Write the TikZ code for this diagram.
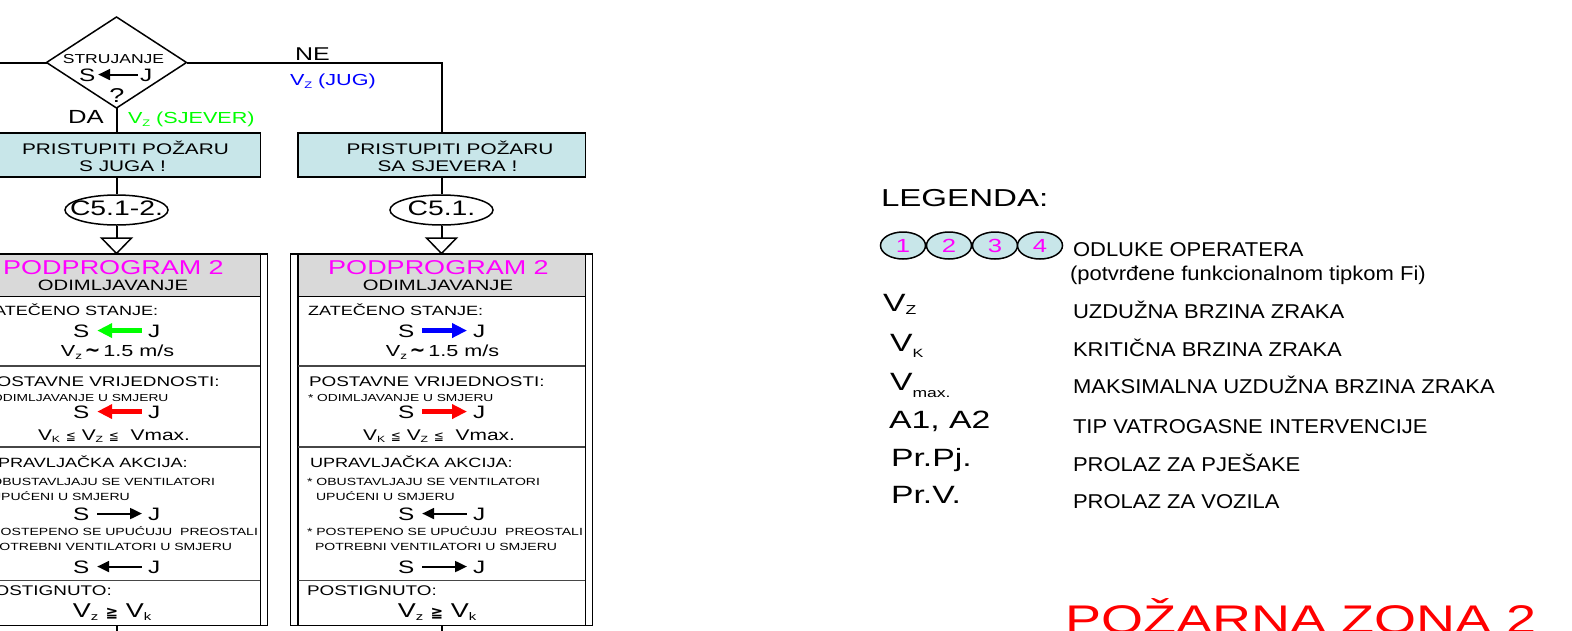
\documentclass[tikz,border=0pt]{standalone}
\usepackage{fontspec}
\setmainfont[FakeStretch=1.35]{Liberation Sans}
\newfontfamily\legf[FakeStretch=1.1]{Liberation Sans}
\newfontfamily\symf{DejaVu Sans}
\usetikzlibrary{arrows.meta,shapes.geometric}
\newcommand\fsz[1]{\fontsize{#1}{#1}\selectfont}
\newcommand\subtxt[3]{\raisebox{-#2pt}{\fsz{#1}#3}}
\definecolor{tealfill}{RGB}{200,230,233}
\definecolor{hdrgrey}{RGB}{217,217,217}
\definecolor{mag}{RGB}{255,0,255}
\definecolor{grn}{RGB}{0,255,0}
\definecolor{blu}{RGB}{0,0,255}
\definecolor{rd}{RGB}{255,0,0}
\definecolor{divgrey}{RGB}{70,70,70}
\tikzset{
 lft/.style={inner sep=0pt, outer sep=0pt, anchor=base west},
 ctr/.style={inner sep=0pt, outer sep=0pt, anchor=base},
 legtxt/.style={inner sep=0pt, outer sep=0pt, anchor=base west, font=\legf\fsz{20}},
 sj/.style={inner sep=0pt, outer sep=0pt, anchor=base west, font=\fsz{18}, text height=12.9pt, text depth=0pt},
 conn/.style={line width=2pt, draw=black},
 shapeline/.style={line width=1.5pt, draw=black},
 tealbox/.style={rectangle, draw, line width=1.5pt, fill=tealfill, minimum width=287.5pt, minimum height=44pt, inner sep=0pt},
 ell/.style={ellipse, draw, line width=1.5pt, fill=white, minimum width=103pt, minimum height=30pt, inner sep=0pt},
 bigbox/.style={rectangle, draw, line width=1.5pt, minimum width=302pt, minimum height=371.5pt, inner sep=0pt},
 frame/.style={line width=1.5pt, draw=black},
 divider/.style={line width=1.2pt, draw=divgrey},
 legc/.style={ellipse, draw, line width=1.5pt, fill=tealfill, minimum width=45pt, minimum height=27pt, inner sep=0pt, font=\fsz{19}, text=mag},
 thickR/.style={line width=5pt, -{Triangle[length=15pt,width=14pt]}},
 thickL/.style={line width=5pt, {Triangle[length=15pt,width=14pt]}-},
 thinR/.style={line width=2pt, -{Triangle[length=12pt,width=11pt]}},
 thinL/.style={line width=2pt, {Triangle[length=12pt,width=11pt]}-},
}
\newcommand\sjrow[5]{%
 \node[sj] (#1S) at (#2,#4) {S};
 \node[sj] (#1J) at (#3,#4) {J};
 \draw[#5] ([xshift=8pt]#1S.east) -- ([xshift=-6pt]#1J.west);}
\newcommand\progbox[1]{%
 \fill[hdrgrey] (297.75,254) rectangle (585.25,296.7);
 \node[bigbox] (#1box) at (441.5,439.75) {};
 \draw[frame] (297.75,254) -- (297.75,625.5);
 \draw[frame] (585.25,254) -- (585.25,625.5);
 \draw[frame] (297.75,296.7) -- (585.25,296.7);
 \draw[divider] (297.75,366) -- (585.25,366);
 \draw[divider] (297.75,447) -- (585.25,447);
 \draw[divider] (297.75,580.7) -- (585.25,580.7);
 \node[ctr, font=\fsz{20}, text=mag] (#1t1) at (438.5,274) {PODPROGRAM 2};
 \node[ctr, font=\fsz{15}] (#1t2) at (438,290) {ODIMLJAVANJE};
 \node[lft, font=\fsz{13.4}] (#1t3) at (308,315) {ZATEČENO STANJE:};
 \node[ctr, font=\fsz{16}] (#1t4) at (442.5,356) {V\subtxt{10}{3}{z}\,{\symf\bfseries\fsz{19}∼}\,1.5 m/s};
 \node[lft, font=\fsz{14}] (#1t5) at (309,386) {POSTAVNE VRIJEDNOSTI:};
 \node[lft, font=\fsz{10.2}] (#1t6) at (308,401) {* ODIMLJAVANJE U SMJERU};
 \node[ctr, font=\fsz{15.5}] (#1t7) at (439,440) {V\subtxt{9}{2.5}{K}\ {\symf\fsz{12}≦}\ V\subtxt{9}{2.5}{Z}\ {\symf\fsz{12}≦}\ \ Vmax.};
 \node[lft, font=\fsz{13.4}] (#1t8) at (310,467) {UPRAVLJAČKA AKCIJA:};
 \node[lft, font=\fsz{10.4}] (#1t9) at (307,485) {* OBUSTAVLJAJU SE VENTILATORI};
 \node[lft, font=\fsz{10.4}] (#1t10) at (316,500) {UPUĆENI U SMJERU};
 \node[lft, font=\fsz{10.4}] (#1t11) at (307,535) {* POSTEPENO SE UPUĆUJU~ PREOSTALI};
 \node[lft, font=\fsz{10.4}] (#1t12) at (315,550) {POTREBNI VENTILATORI U SMJERU};
 \node[lft, font=\fsz{14}] (#1t13) at (307,595) {POSTIGNUTO:};
 \node[ctr, font=\fsz{20}] (#1t14) at (437,617) {V\subtxt{11}{3}{z}\ {\symf\bfseries\fsz{15}≧}\ V\subtxt{11}{3}{k}};
 \coordinate (#1out) at (441.5,640);
 \draw[conn] (#1box.south) -- (#1out);
}
\begin{document}
\begin{tikzpicture}[x=1pt,y=-1pt]
\useasboundingbox (0,0) rectangle (1572,630);
\fill[white] (0,0) rectangle (1572,630);
\clip (0,0) rectangle (1572,630);

% decision diamond
\coordinate (dT) at (116.5,17);
\coordinate (dR) at (186.5,62.5);
\coordinate (dB) at (116.5,108);
\coordinate (dL) at (46.5,62.5);
\coordinate (lin) at (-5,62.5);
\draw[conn] (lin) -- (dL);
\draw[shapeline, fill=white] (dT) -- (dR) -- (dB) -- (dL) -- cycle;
\node[ctr, font=\fsz{13}] (strj) at (113.5,63) {STRUJANJE};
\node[sj] (dS) at (79,81) {S};
\node[sj] (dJ) at (140,81) {J};
\draw[thinL] ([xshift=3pt]dS.east) -- ([xshift=-2pt]dJ.west);
\node[ctr, font=\fsz{20}] (qm) at (117,102) {?};

% labels
\node[lft, font=\fsz{18.5}] (ne) at (295,60.5) {NE};
\node[lft, font=\fsz{16}, text=blu] (jug) at (290,85) {V\subtxt{9.5}{3}{Z} (JUG)};
\node[lft, font=\fsz{19}] (da) at (68,123.3) {DA};
\node[lft, font=\fsz{16}, text=grn] (sjev) at (128,123) {V\subtxt{9.5}{3}{Z} (SJEVER)};

% teal boxes
\node[tealbox] (b1) at (116.5,155) {};
\node[tealbox] (b2) at (441.5,155) {};
\node[ctr, font=\fsz{15.4}] (b1a) at (125.5,154) {PRISTUPITI POŽARU};
\node[ctr, font=\fsz{15.4}] (b1b) at (122.5,171) {S JUGA !};
\node[ctr, font=\fsz{15.4}] (b2a) at (450,154) {PRISTUPITI POŽARU};
\node[ctr, font=\fsz{15.4}] (b2b) at (447.5,171) {SA SJEVERA !};
\draw[conn] (dB) -- (b1.north);
\draw[conn] (dR) -| (b2.north);

% ellipses
\node[ell] (e1) at (116.5,210) {};
\node[ell] (e2) at (441.5,210) {};
\node[ctr, font=\fsz{21}] (e1t) at (116.5,215.5) {C5.1-2.};
\node[ctr, font=\fsz{21}] (e2t) at (441.5,215.5) {C5.1.};
\draw[conn] (b1.south) -- (e1.north);
\draw[conn] (b2.south) -- (e2.north);
\coordinate (v1) at (116.5,238);
\coordinate (v2) at (441.5,238);
\draw[conn] (e1.south) -- (v1);
\draw[conn] (e2.south) -- (v2);
\draw[shapeline, fill=white] (101.5,238) -- (131.5,238) -- (116.5,253.5) -- cycle;
\draw[shapeline, fill=white] (426.5,238) -- (456.5,238) -- (441.5,253.5) -- cycle;

% right program box
\progbox{R}
\sjrow{R1}{398}{473}{337}{thickR,blu}
\sjrow{R2}{398}{473}{418}{thickR,rd}
\sjrow{R3}{398}{473}{520}{thinL}
\sjrow{R4}{398}{473}{573}{thinR}

% left program box
\begin{scope}[xshift=-325pt]
\progbox{L}
\sjrow{L1}{398}{473}{337}{thickL,grn}
\sjrow{L2}{398}{473}{418}{thickL,rd}
\sjrow{L3}{398}{473}{520}{thinR}
\sjrow{L4}{398}{473}{573}{thinL}
\end{scope}

% legend
\node[lft, font=\fsz{24.5}] (leg) at (881,206) {LEGENDA:};
\node[legc] (c1) at (903,245.5) {1};
\node[legc] (c2) at (949,245.5) {2};
\node[legc] (c3) at (995,245.5) {3};
\node[legc] (c4) at (1040,245.5) {4};
\node[legtxt] (l1) at (1073,256.7) {ODLUKE OPERATERA};
\node[legtxt] (l1b) at (1070,280) {(potvrđene funkcionalnom tipkom Fi)};
\node[lft, font=\fsz{25}] (s2) at (883,311.7) {V\subtxt{13}{2.5}{Z}};
\node[legtxt] (l2) at (1073,318) {UZDUŽNA BRZINA ZRAKA};
\node[lft, font=\fsz{25}] (s3) at (890,351.7) {V\subtxt{12}{6}{K}};
\node[legtxt] (l3) at (1073,356.7) {KRITIČNA BRZINA ZRAKA};
\node[lft, font=\fsz{25}] (s4) at (890,390) {V\subtxt{13}{7}{max.}};
\node[legtxt] (l4) at (1073,393) {MAKSIMALNA UZDUŽNA BRZINA ZRAKA};
\node[lft, font=\fsz{25}] (s5) at (889,428.3) {A1, A2};
\node[legtxt] (l5) at (1073,433) {TIP VATROGASNE INTERVENCIJE};
\node[lft, font=\fsz{25}] (s6) at (891,466) {Pr.Pj.};
\node[legtxt] (l6) at (1073,471.7) {PROLAZ ZA PJEŠAKE};
\node[lft, font=\fsz{25}] (s7) at (891,503) {Pr.V.};
\node[legtxt] (l7) at (1073,508) {PROLAZ ZA VOZILA};

% zone title
\node[lft, font=\fsz{40}, text=rd] (zone) at (1065,633) {POŽARNA ZONA 2};
\end{tikzpicture}
\end{document}
